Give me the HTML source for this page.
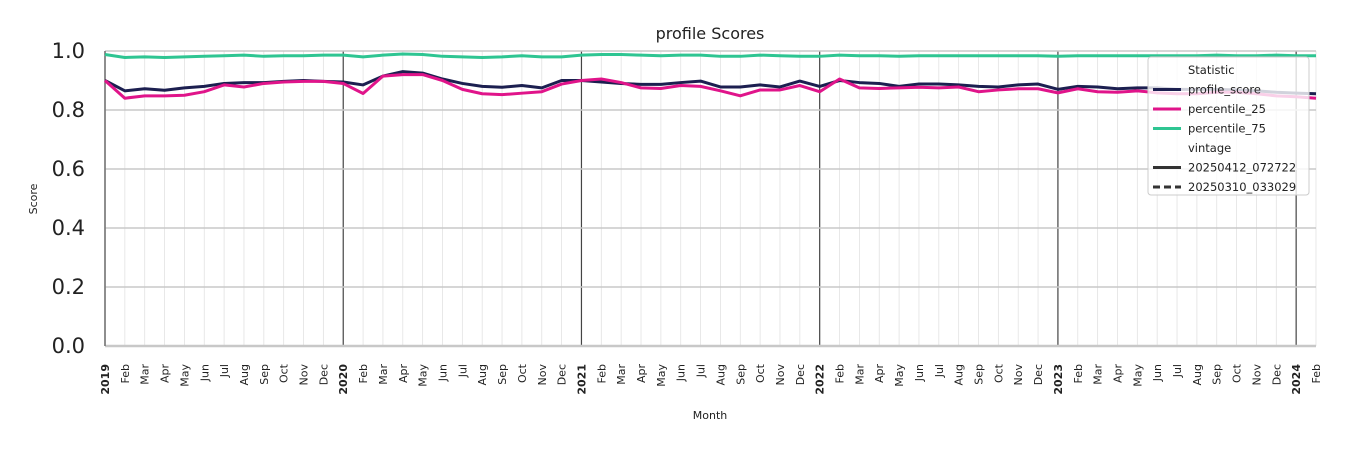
<!DOCTYPE html>
<html><head><meta charset="utf-8"><style>
html,body{margin:0;padding:0;background:#fff;}
svg{display:block;font-family:"DejaVu Sans","Liberation Sans",sans-serif;}
</style></head><body>
<svg id="chart" width="1350" height="450" viewBox="0 0 1350 450">
<text x="710" y="39" font-size="16" text-anchor="middle" fill="#222">profile Scores</text>
<text x="710" y="419" font-size="11" text-anchor="middle" fill="#222">Month</text>
<text transform="translate(37,199) rotate(-90)" font-size="11" text-anchor="middle" fill="#222">Score</text>
<g id="grid"></g><g id="series"></g><g id="ticks"></g>
</svg>
<script>
const monthNames=["Jan","Feb","Mar","Apr","May","Jun","Jul","Aug","Sep","Oct","Nov","Dec"];
const startYear=2019;
const nMonths=62;
const yTicks=[0,0.2,0.4,0.6,0.8,1.0];
const profileScore=[.90,.865,.872,.867,.875,.88,.89,.893,.893,.897,.90,.897,
.895,.885,.915,.93,.925,.905,.89,.88,.877,.883,.875,.90,
.90,.895,.89,.887,.887,.893,.898,.878,.878,.885,.878,.898,
.88,.90,.893,.89,.88,.888,.888,.885,.88,.878,.885,.888,
.87,.88,.878,.872,.875,.875,.87,.87,.87,.868,.865,.86,.857,.855];
const percentile25=[.90,.84,.848,.848,.85,.862,.885,.878,.89,.895,.897,.897,
.89,.856,.915,.92,.92,.9,.87,.855,.852,.857,.862,.888,
.9,.905,.893,.875,.873,.883,.88,.865,.848,.868,.868,.883,
.862,.905,.875,.873,.875,.877,.875,.878,.862,.868,.872,.872,
.858,.872,.862,.86,.865,.858,.855,.855,.86,.86,.855,.848,.845,.84];
const percentile75=[.988,.978,.98,.978,.98,.982,.984,.986,.982,.984,.984,.986,
.986,.98,.986,.99,.988,.982,.98,.978,.98,.984,.98,.98,
.986,.988,.988,.986,.984,.986,.986,.982,.982,.986,.984,.982,
.982,.986,.984,.984,.982,.984,.984,.984,.984,.984,.984,.984,
.982,.984,.984,.984,.984,.984,.984,.984,.986,.984,.984,.986,.984,.984];
const X0=105,X1=1316,Y0=346,Y1=51;
const xs=i=>X0+(X1-X0)*i/(nMonths-1);
const ys=v=>Y0-(Y0-Y1)*v;
const NS="http://www.w3.org/2000/svg";
function mk(tag,attrs,parent){const e=document.createElementNS(NS,tag);for(const k in attrs)e.setAttribute(k,attrs[k]);parent.appendChild(e);return e;}
const grid=document.getElementById('grid'),ser=document.getElementById('series'),tk=document.getElementById('ticks');
for(let i=0;i<nMonths;i++){
  const jan=i%12===0;
  const l=mk('line',{x1:xs(i),x2:xs(i),y1:Y1,y2:Y0,stroke:jan?'#444':'#e2e2e2','stroke-width':jan?1.2:0.8},grid);
  
  
  const lab=jan?String(startYear+i/12):monthNames[i%12];
  const t=mk('text',{transform:`translate(${xs(i)+4},364) rotate(-90)`,'font-size':11,'text-anchor':'end',fill:'#222','font-weight':jan?'bold':'normal'},tk);
  t.textContent=lab;
  
  
}
yTicks.forEach(v=>{
  const l=mk('line',{x1:X0,x2:X1,y1:ys(v),y2:ys(v),stroke:'#c8c8c8','stroke-width':v===0?2.5:1.5},grid);
  
  
  const t=mk('text',{x:85,y:ys(v)+7,'font-size':21,'text-anchor':'end',fill:'#222'},tk);
  t.textContent=v.toFixed(1);
  
  
});
const axL=mk('line',{x1:X0,x2:X0,y1:Y1,y2:Y0,stroke:'#444','stroke-width':1},grid);


function line(arr,color,name){
  const p=mk('polyline',{points:arr.map((v,i)=>xs(i)+','+ys(v)).join(' '),fill:'none',stroke:color,'stroke-width':3,'stroke-linejoin':'round'},ser);
  
  
}
line(percentile75,'#2ec592','line-percentile-75');
line(profileScore,'#1c1f50','line-profile-score');
line(percentile25,'#e0148a','line-percentile-25');
// legend
const lg=mk('g',{},tk);


mk('rect',{x:1148,y:57,width:161,height:138,rx:3,fill:'rgba(255,255,255,0.8)',stroke:'#ccc'},lg);
const items=[['Statistic',null,false],['profile_score','#1c1f50',false],['percentile_25','#e0148a',false],['percentile_75','#2ec592',false],['vintage',null,false],['20250412_072722','#333',false],['20250310_033029','#333',true]];
items.forEach((it,k)=>{
  const y=74+k*19.5;
  const g=mk('g',{},lg);
  
  
  if(it[1]) mk('line',{x1:1153,x2:1181,y1:y-4,y2:y-4,stroke:it[1],'stroke-width':3,'stroke-dasharray':it[2]?'7,4':'none'},g);
  const t=mk('text',{x:it[1]?1188:1188,y:y,'font-size':11.5,fill:'#222'},g);
  t.textContent=it[0];
});
</script>
</body></html>
